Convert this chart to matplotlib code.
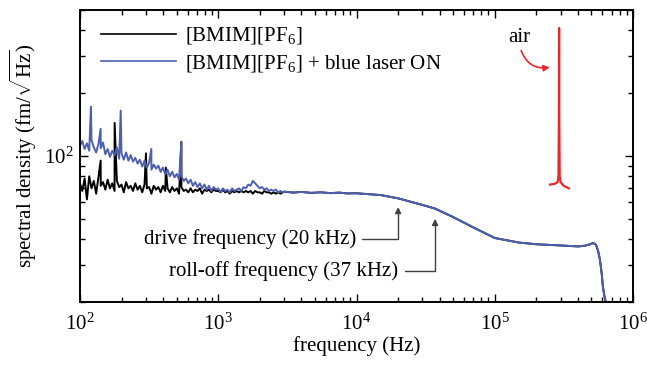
import numpy as np
import matplotlib
matplotlib.use("Agg")
import matplotlib.pyplot as plt
from matplotlib.lines import Line2D
from matplotlib.ticker import NullFormatter, LogLocator

plt.rcParams["font.family"] = ["Liberation Serif", "DejaVu Serif"]
plt.rcParams["mathtext.fontset"] = "custom"
plt.rcParams["mathtext.rm"] = "Liberation Serif"
plt.rcParams["mathtext.it"] = "Liberation Serif:italic"
plt.rcParams["mathtext.bf"] = "Liberation Serif:bold"

# --- data ---
# noisy low-frequency part, 60 bins per decade from 100 Hz
low_start_exp = 2.0
low_bins_per_decade = 60
black_low = [74, 68, 78, 62, 80, 70, 76, 66, 79, 72, 75, 69,
             77, 70, 74, 68, 76, 71, 73, 67, 75, 70, 72, 68,
             74, 69, 72, 67, 73, 70, 71, 66, 72, 69, 71, 67,
             72, 68, 70, 67, 71, 68, 70, 66, 71, 68, 69, 67,
             70, 67, 69, 68, 70, 66, 69, 68, 69, 67, 69, 68,
             68, 67, 69, 67, 68, 66, 68, 67, 68, 67, 68, 67,
             68, 67, 68, 66, 68, 67, 67, 66, 68, 67, 67, 66,
             67, 66, 67, 66, 67]
blue_low = [112, 118, 108, 115, 106, 119, 110, 104, 114, 109, 116, 102,
            108, 99, 106, 101, 110, 97, 103, 96, 104, 95, 101, 94,
            98, 92, 96, 89, 95, 88, 93, 86, 91, 87, 90, 84,
            88, 82, 86, 80, 84, 79, 82, 77, 80, 76, 78, 74,
            77, 72, 75, 71, 74, 70, 73, 69, 72, 68, 71, 69,
            70, 67, 70, 68, 69, 67, 70, 68, 69, 70, 68, 71,
            70, 73, 72, 76, 74, 72, 70, 71, 69, 70, 68, 69,
            68, 69, 67, 68, 67]

# narrow spectral lines (Hz, fm/sqrt(Hz))
black_spike_f = [141, 178, 300, 418, 541]
black_spike_v = [95, 144, 103, 88, 117]
blue_spike_f = [120, 141, 197, 328, 541]
blue_spike_v = [172, 135, 165, 108, 117]

# smooth high-frequency part (both measurements overlap)
smooth_f = [3000, 3500, 4000, 4700, 5500, 6500, 7500, 8500, 10000, 15000,
            20000, 30000, 37000, 50000, 70000, 100000, 150000, 200000,
            300000, 400000, 450000, 490000, 515000, 540000, 560000,
            577000, 595000, 606000, 620000, 640000]
smooth_v = [67.5, 66.8, 67.3, 66.6, 67.0, 66.4, 66.8, 66.2, 66.3, 65.0,
            62.7, 58.3, 56.0, 51.0, 45.5, 40.5, 38.5, 37.8,
            37.3, 36.9, 37.2, 37.8, 38.3, 37.6, 35.0,
            31.8, 27.0, 23.6, 21.5, 19.5]

# air resonance
air_f = [251000, 270000, 285000, 289000, 291000, 292000, 293000, 295000,
         299000, 315000, 344000]
air_v = [73, 73.5, 75, 80, 150, 410, 150, 80, 75, 72, 70]

black_c = "#000000"
blue_c = "#4f5fb0"
red_c = "#e8282c"
arrow_c = "#404040"
fs = 15


def build(low_vals, spike_f, spike_v):
    n = len(low_vals)
    f = 10 ** (low_start_exp + np.arange(n) / low_bins_per_decade)
    f = np.concatenate([f, spike_f, smooth_f])
    v = np.concatenate([low_vals, spike_v, smooth_v])
    order = np.argsort(f)
    return f[order], v[order]


bf, bv = build(black_low, black_spike_f, black_spike_v)
uf, uv = build(blue_low, blue_spike_f, blue_spike_v)

fig = plt.figure(figsize=(6.47, 3.72), dpi=100)
ax = fig.add_axes([80 / 647, 70 / 372, 553 / 647, 292 / 372])

ax.plot(bf, bv, color=black_c, lw=1.4)
ax.plot(uf, uv, color=blue_c, lw=1.4)
ax.plot(air_f, air_v, color=red_c, lw=1.6)

ax.set_xscale("log")
ax.set_yscale("log")
ax.set_xlim(1e2, 1e6)
ax.set_ylim(20, 500)

ax.yaxis.set_major_locator(LogLocator(base=10))
ax.yaxis.set_minor_locator(LogLocator(base=10, subs=np.arange(2, 10)))
ax.yaxis.set_minor_formatter(NullFormatter())
ax.xaxis.set_minor_formatter(NullFormatter())

ax.tick_params(which="both", direction="in", top=True, right=True, width=1.0,
               labelsize=fs)
ax.tick_params(which="major", length=6)
ax.tick_params(which="minor", length=3.5)
ax.tick_params(axis="x", which="major", pad=8)
ax.tick_params(axis="y", which="major", pad=5)
for s in ax.spines.values():
    s.set_linewidth(1.4)

ax.set_xlabel("frequency (Hz)", fontsize=fs, labelpad=1)
ax.set_ylabel(r"spectral density (fm/$\sqrt{\mathrm{Hz}}$)", fontsize=fs,
              labelpad=3)

handles = [Line2D([], [], color=black_c, lw=1.2),
           Line2D([], [], color=blue_c, lw=1.2)]
ax.legend(handles, [r"[BMIM][PF$_6$]", r"[BMIM][PF$_6$] + blue laser ON"],
          loc="upper left", bbox_to_anchor=(0.015, 0.99), frameon=False,
          fontsize=fs, handlelength=3.6, handletextpad=0.45, labelspacing=0.3,
          borderaxespad=0.2)

# annotations
ax.text(1.5e5, 370, "air", fontsize=fs, ha="center", va="center")
ax.annotate("", xy=(2.5e5, 266), xytext=(1.55e5, 320),
            arrowprops=dict(arrowstyle="-|>", color=red_c, lw=1.2,
                            mutation_scale=9, shrinkA=0, shrinkB=0,
                            connectionstyle="arc3,rad=0.4"))

ax.text(1.0e4, 40, "drive frequency (20 kHz)", fontsize=fs, ha="right",
        va="center")
ax.annotate("", xy=(2e4, 57), xytext=(1.1e4, 40),
            arrowprops=dict(arrowstyle="-|>", color=arrow_c, lw=1.0,
                            mutation_scale=9, shrinkA=0, shrinkB=0,
                            connectionstyle="angle,angleA=0,angleB=90,rad=0"))
ax.text(2.0e4, 28, "roll-off frequency (37 kHz)", fontsize=fs, ha="right",
        va="center")
ax.annotate("", xy=(3.7e4, 50), xytext=(2.24e4, 28),
            arrowprops=dict(arrowstyle="-|>", color=arrow_c, lw=1.0,
                            mutation_scale=9, shrinkA=0, shrinkB=0,
                            connectionstyle="angle,angleA=0,angleB=90,rad=0"))

fig.savefig("out.png", dpi=100)
